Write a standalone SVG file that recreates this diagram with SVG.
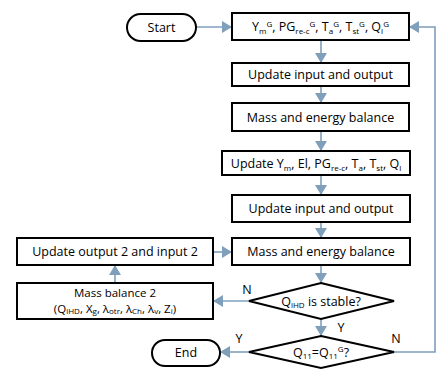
<svg xmlns="http://www.w3.org/2000/svg" width="441" height="392" viewBox="0 0 441 392">
<style>
.box{fill:#fff;stroke:#000;stroke-width:2}
.con{fill:none;stroke:#7f9fbb;stroke-width:1.6}
text{font-family:"Open Sans","DejaVu Sans",sans-serif;font-size:12.5px;fill:#000}
.c{text-anchor:middle}
.s{font-size:8px}
.m{font-size:11.5px}
</style>
<defs>
<marker id="ah" viewBox="0 0 10 12" refX="10" refY="6" markerWidth="10" markerHeight="12" markerUnits="userSpaceOnUse" orient="auto">
<path d="M0,0 L10,6 L0,12 z" fill="#7f9fbb"/>
</marker>
</defs>
<g id="connectors">
<line class="con" x1="196" y1="27" x2="232" y2="27" marker-end="url(#ah)"/>
<line class="con" x1="321" y1="40" x2="321" y2="63" marker-end="url(#ah)"/>
<line class="con" x1="321" y1="86" x2="321" y2="103" marker-end="url(#ah)"/>
<line class="con" x1="321" y1="131" x2="321" y2="151" marker-end="url(#ah)"/>
<line class="con" x1="321" y1="175" x2="321" y2="195" marker-end="url(#ah)"/>
<line class="con" x1="321" y1="222" x2="321" y2="238" marker-end="url(#ah)"/>
<line class="con" x1="321" y1="265" x2="321" y2="283" marker-end="url(#ah)"/>
<line class="con" x1="213" y1="252" x2="232" y2="252" marker-end="url(#ah)"/>
<line class="con" x1="115" y1="283" x2="115" y2="265" marker-end="url(#ah)"/>
<line class="con" x1="249" y1="301" x2="213" y2="301" marker-end="url(#ah)"/>
<line class="con" x1="321" y1="319" x2="321" y2="336" marker-end="url(#ah)"/>
<line class="con" x1="249" y1="352" x2="220" y2="352" marker-end="url(#ah)"/>
<polyline class="con" points="394,352 435,352 435,27 409,27" marker-end="url(#ah)"/>
<text x="247" y="294" class="c">N</text>
<text x="341" y="332" class="c">Y</text>
<text x="239" y="343" class="c">Y</text>
<text x="396" y="343" class="c">N</text>
</g>
<g id="start">
<rect class="box" x="127" y="14" width="69" height="27" rx="13.5"/>
<text x="161.5" y="32" class="c">Start</text>
</g>
<g id="init">
<rect class="box" x="232" y="13" width="177" height="27"/>
<text x="320.5" y="31" class="c">Y<tspan class="s" dy="3">m</tspan><tspan class="s" dy="-7">G</tspan><tspan dy="4">, PG</tspan><tspan class="s" dy="3">re-c</tspan><tspan class="s" dy="-7">G</tspan><tspan dy="4">, T</tspan><tspan class="s" dy="3">a</tspan><tspan class="s" dy="-7">G</tspan><tspan dy="4">, T</tspan><tspan class="s" dy="3">st</tspan><tspan class="s" dy="-7">G</tspan><tspan dy="4">, Q</tspan><tspan class="s" dy="3">l</tspan><tspan class="s" dy="-7">G</tspan></text>
</g>
<g id="update1">
<rect class="box" x="232" y="63" width="177" height="23"/>
<text x="320.5" y="79" class="c">Update input and output</text>
</g>
<g id="balance1">
<rect class="box" x="232" y="103" width="177" height="28"/>
<text x="320.5" y="122" class="c">Mass and energy balance</text>
</g>
<g id="update2">
<rect class="box" x="222" y="151" width="188" height="24"/>
<text x="316" y="168" class="c">Update Y<tspan class="s" dy="3">m</tspan><tspan dy="-3">, El, PG</tspan><tspan class="s" dy="3">re-c</tspan><tspan dy="-3">, T</tspan><tspan class="s" dy="3">a</tspan><tspan dy="-3">, T</tspan><tspan class="s" dy="3">st</tspan><tspan dy="-3">, Q</tspan><tspan class="s" dy="3">l</tspan></text>
</g>
<g id="update3">
<rect class="box" x="232" y="195" width="178" height="27"/>
<text x="321" y="213" class="c">Update input and output</text>
</g>
<g id="balance2">
<rect class="box" x="232" y="238" width="178" height="27"/>
<text x="321" y="256" class="c">Mass and energy balance</text>
</g>
<g id="update4">
<rect class="box" x="17" y="238" width="196" height="27"/>
<text x="115" y="256" class="c">Update output 2 and input 2</text>
</g>
<g id="massbal2">
<rect class="box" x="17" y="283" width="196" height="36"/>
<text x="115" y="297" class="c m">Mass balance 2</text>
<text x="115" y="313" class="c m">(Q<tspan class="s" dy="1">iHD</tspan><tspan dy="-1">, X</tspan><tspan class="s" dy="1">g</tspan><tspan dy="-1">, λ</tspan><tspan class="s" dy="1">otr</tspan><tspan dy="-1">, λ</tspan><tspan class="s" dy="1">Ch</tspan><tspan dy="-1">, λ</tspan><tspan class="s" dy="1">v</tspan><tspan dy="-1">, Z</tspan><tspan class="s" dy="1">i</tspan><tspan dy="-1">)</tspan></text>
</g>
<g id="stable">
<polygon class="box" points="321,283 394,301 321,319 249,301"/>
<text x="321" y="306" class="c">Q<tspan class="s" dy="2">iHD</tspan><tspan dy="-2"> is stable?</tspan></text>
</g>
<g id="converged">
<polygon class="box" points="321,336 394,352 321,368 249,352"/>
<text x="321" y="357" class="c">Q<tspan class="s" dy="2">11</tspan><tspan dy="-2">=Q</tspan><tspan class="s" dy="2">11</tspan><tspan class="s" dy="-7">G</tspan><tspan dy="5">?</tspan></text>
</g>
<g id="end">
<rect class="box" x="152" y="340" width="68" height="26" rx="13"/>
<text x="186" y="357" class="c">End</text>
</g>
</svg>
